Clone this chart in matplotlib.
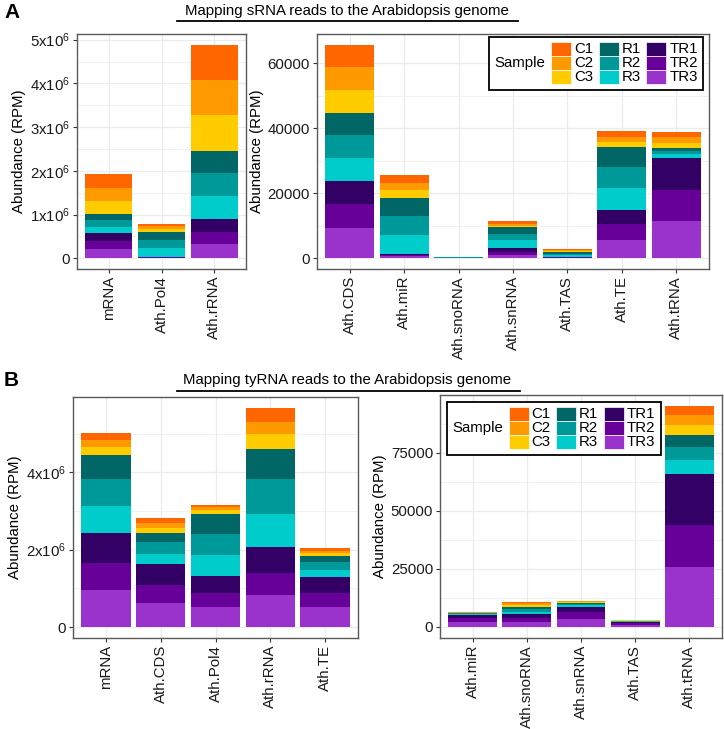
import matplotlib
matplotlib.use("Agg")
import matplotlib.pyplot as plt
from matplotlib.lines import Line2D
from matplotlib.patches import Rectangle
from matplotlib.offsetbox import AnchoredOffsetbox, DrawingArea, HPacker, VPacker, TextArea

# samples, in legend order; stacked bottom-up in reverse (TR3 at the bottom)
SAMPLES = ["C1", "C2", "C3", "R1", "R2", "R3", "TR1", "TR2", "TR3"]
COLORS = ["#FF6600", "#FF9900", "#FFCC00", "#006666", "#009999", "#00CCCC",
          "#330066", "#660099", "#9933CC"]

# A: sRNA reads, left panel (RPM x 1e6)
a_left_cats = ["mRNA", "Ath.Pol4", "Ath.rRNA"]
a_left_vals = [
    [0.313, 0.046, 0.817],   # C1
    [0.298, 0.061, 0.802],   # C2
    [0.305, 0.061, 0.809],   # C3
    [0.130, 0.190, 0.496],   # R1
    [0.153, 0.190, 0.527],   # R2
    [0.145, 0.190, 0.542],   # R3
    [0.191, 0.013, 0.282],   # TR1
    [0.175, 0.013, 0.275],   # TR2
    [0.214, 0.013, 0.336],   # TR3
]

# A: sRNA reads, right panel (RPM)
a_right_cats = ["Ath.CDS", "Ath.miR", "Ath.snoRNA", "Ath.snRNA", "Ath.TAS", "Ath.TE", "Ath.tRNA"]
a_right_vals = [
    [6960, 2250, 20, 920, 300, 1540, 1640],     # C1
    [7060, 2250, 20, 510, 300, 1640, 1740],     # C2
    [7060, 2560, 20, 410, 300, 1740, 1740],     # C3
    [6550, 5320, 150, 1940, 400, 5930, 920],    # R1
    [7060, 5930, 150, 1940, 500, 6550, 820],    # R2
    [7260, 5930, 100, 2560, 500, 6650, 1230],   # R3
    [7160, 180, 20, 1020, 150, 4500, 9820],     # TR1
    [7260, 350, 20, 1130, 150, 4810, 9720],     # TR2
    [9310, 700, 20, 920, 150, 5630, 11350],     # TR3
]

# B: tyRNA reads, left panel (RPM x 1e6)
b_left_cats = ["mRNA", "Ath.CDS", "Ath.Pol4", "Ath.rRNA", "Ath.TE"]
b_left_vals = [
    [0.181, 0.138, 0.069, 0.353, 0.086],   # C1
    [0.172, 0.112, 0.078, 0.328, 0.052],   # C2
    [0.198, 0.129, 0.095, 0.388, 0.069],   # C3
    [0.621, 0.250, 0.508, 0.767, 0.164],   # R1
    [0.707, 0.293, 0.552, 0.905, 0.190],   # R2
    [0.690, 0.276, 0.543, 0.845, 0.181],   # R3
    [0.784, 0.534, 0.440, 0.681, 0.422],   # TR1
    [0.698, 0.457, 0.362, 0.569, 0.371],   # TR2
    [0.957, 0.629, 0.517, 0.828, 0.509],   # TR3
]

# B: tyRNA reads, right panel (RPM)
b_right_cats = ["Ath.miR", "Ath.snoRNA", "Ath.snRNA", "Ath.TAS", "Ath.tRNA"]
b_right_vals = [
    [100, 720, 290, 50, 4050],       # C1
    [100, 720, 430, 50, 3900],       # C2
    [100, 720, 430, 50, 4480],       # C3
    [300, 1010, 290, 150, 5200],     # R1
    [300, 1010, 290, 200, 5640],     # R2
    [400, 1160, 870, 200, 5780],     # R3
    [1300, 1440, 2020, 600, 22110],  # TR1
    [1500, 2020, 3320, 700, 18210],  # TR2
    [2300, 2020, 3320, 900, 25720],  # TR3
]

FS = 10.8
W, H = 724, 729

plt.rcParams.update({
    "font.family": ["Liberation Sans", "DejaVu Sans"],
    "font.size": FS,
    "mathtext.fontset": "custom",
    "mathtext.rm": "Liberation Sans",
    "mathtext.it": "Liberation Sans:italic",
    "mathtext.bf": "Liberation Sans:bold",
})


def px_rect(x0, y0, x1, y1):
    return [x0 / W, 1 - y1 / H, (x1 - x0) / W, (y1 - y0) / H]


def stacked(ax, cats, vals, scale, major, minor, labels):
    xs = list(range(len(cats)))
    bottom = [0.0] * len(cats)
    for i in reversed(range(len(SAMPLES))):
        v = [x * scale for x in vals[i]]
        ax.bar(xs, v, width=0.9, bottom=bottom, color=COLORS[i], linewidth=0, zorder=2)
        bottom = [b + x for b, x in zip(bottom, v)]
    top = max(bottom)
    ax.set_ylim(-0.05 * top, 1.05 * top)
    ax.set_xlim(-0.6, len(cats) - 0.4)
    ax.set_xticks(xs)
    ax.set_xticklabels(cats, rotation=90)
    ax.set_yticks(major)
    ax.set_yticklabels(labels)
    ax.set_yticks(minor, minor=True)
    ax.grid(which="major", color="#EBEBEB", lw=0.9, zorder=0)
    ax.grid(which="minor", axis="y", color="#EBEBEB", lw=0.5, zorder=0)
    ax.set_axisbelow(True)
    ax.tick_params(which="major", length=3, width=0.8, color="#333333",
                   labelsize=FS, labelcolor="#1a1a1a", pad=2)
    ax.tick_params(which="minor", length=0)
    for s in ax.spines.values():
        s.set_color("#5a5a5a")
        s.set_linewidth(1.0)
    ax.set_ylabel("Abundance (RPM)", fontsize=FS, labelpad=3)


def sample_legend(ax, loc, anchor):
    cols = []
    for c in range(3):
        rows = []
        for r in range(3):
            i = c * 3 + r
            da = DrawingArea(14.5, 10, 0, 0)
            da.add_artist(Rectangle((0, 0), 14.5, 10, facecolor=COLORS[i],
                                    edgecolor="white", lw=0.5))
            lab = TextArea(SAMPLES[i], textprops=dict(fontsize=FS))
            rows.append(HPacker(children=[da, lab], sep=2, align="center"))
        cols.append(VPacker(children=rows, sep=0, align="left"))
    title = TextArea("Sample", textprops=dict(fontsize=FS))
    box = HPacker(children=[title] + cols, sep=4, align="center")
    ab = AnchoredOffsetbox(loc=loc, child=box, pad=0.35, borderpad=0.0,
                           frameon=True, bbox_to_anchor=anchor,
                           bbox_transform=ax.transAxes, prop=dict(size=FS))
    ab.patch.set_boxstyle("square", pad=0)
    ab.patch.set_edgecolor("black")
    ab.patch.set_linewidth(1.3)
    ax.add_artist(ab)


def sci(n):
    return "0" if n == 0 else f"{n}x10$^{{6}}$"


fig = plt.figure(figsize=(W / 100, H / 100), dpi=100)

# ---- panel A ----
ax1 = fig.add_axes(px_rect(77, 34, 246, 269))
stacked(ax1, a_left_cats, a_left_vals, 1e6,
        [k * 1e6 for k in range(6)], [(k + 0.5) * 1e6 for k in range(5)],
        [sci(k) for k in range(6)])

ax2 = fig.add_axes(px_rect(317, 34, 709, 269))
stacked(ax2, a_right_cats, a_right_vals, 1,
        [0, 20000, 40000, 60000], [10000, 30000, 50000],
        ["0", "20000", "40000", "60000"])
sample_legend(ax2, "upper right", (1 - 6 / 392, 1 - 3 / 235))

# ---- panel B ----
ax3 = fig.add_axes(px_rect(73, 397, 358, 638))
stacked(ax3, b_left_cats, b_left_vals, 1e6,
        [0, 2e6, 4e6], [1e6, 3e6, 5e6],
        [sci(0), sci(2), sci(4)])

ax4 = fig.add_axes(px_rect(440, 395, 722, 638))
stacked(ax4, b_right_cats, b_right_vals, 1,
        [0, 25000, 50000, 75000], [12500, 37500, 62500, 87500],
        ["0", "25000", "50000", "75000"])
sample_legend(ax4, "upper left", (7 / 282, 1 - 7 / 243))

# ---- titles, underlines, panel letters ----
fig.text(347 / W, 1 - 11 / H, "Mapping sRNA reads to the Arabidopsis genome",
         ha="center", va="center", fontsize=FS)
fig.add_artist(Line2D([177 / W, 518 / W], [1 - 20.5 / H, 1 - 20.5 / H],
                      transform=fig.transFigure, color="black", lw=1.3))
fig.text(347 / W, 1 - 380 / H, "Mapping tyRNA reads to the Arabidopsis genome",
         ha="center", va="center", fontsize=FS)
fig.add_artist(Line2D([177 / W, 520 / W], [1 - 391 / H, 1 - 391 / H],
                      transform=fig.transFigure, color="black", lw=1.3))

fig.text(4 / W, 1 - 13 / H, "A", ha="left", va="center", fontsize=15, fontweight="bold")
fig.text(4 / W, 1 - 381 / H, "B", ha="left", va="center", fontsize=15, fontweight="bold")

fig.savefig("out.png", dpi=100)
